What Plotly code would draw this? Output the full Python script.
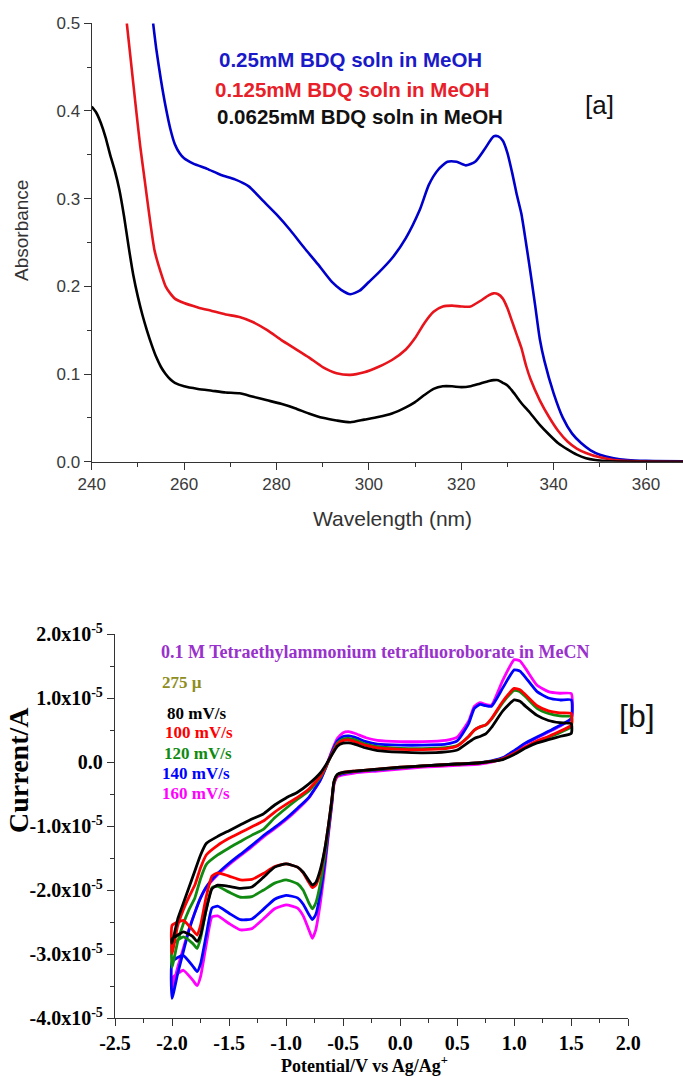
import plotly.graph_objects as go

# ---------------- Panel (a): UV-vis spectra ----------------
wl_blue = [253.3, 254, 255, 256, 257, 258, 259, 260, 262, 265, 268, 271, 274, 277, 280, 283, 286, 289,
           292, 294, 296, 298, 300, 302, 305, 308, 311, 313, 315, 317, 319, 321, 323, 325, 327, 328,
           329, 330, 331, 332, 333, 334, 335, 336, 337, 338, 340, 342, 344, 346, 348, 350, 353, 356,
           360, 368]
abs_blue = [0.50, 0.47, 0.435, 0.405, 0.38, 0.362, 0.352, 0.346, 0.34, 0.334, 0.327, 0.322, 0.314,
            0.298, 0.282, 0.264, 0.244, 0.225, 0.205, 0.196, 0.191, 0.195, 0.205, 0.215, 0.232, 0.255,
            0.287, 0.316, 0.333, 0.342, 0.342, 0.338, 0.342, 0.356, 0.371, 0.371, 0.366, 0.352, 0.33,
            0.305, 0.283, 0.25, 0.215, 0.178, 0.14, 0.115, 0.078, 0.05, 0.032, 0.021, 0.013, 0.008,
            0.004, 0.002, 0.001, 0.0005]

wl_red = [247.6, 248.5, 249.5, 250.5, 251.5, 252.5, 253.6, 255, 256, 257, 258, 260, 263, 266, 269, 272,
          275, 278, 281, 284, 287, 290, 293, 296, 299, 302, 305, 308, 310, 312, 314, 316, 318, 320, 322,
          324, 326, 327, 328, 329, 330, 331, 332, 333, 334, 335, 337, 339, 341, 343, 345, 347, 350, 353,
          358, 368]
abs_red = [0.50, 0.456, 0.407, 0.36, 0.32, 0.28, 0.241, 0.215, 0.20, 0.192, 0.186, 0.181, 0.176, 0.172,
           0.168, 0.165, 0.159, 0.15, 0.139, 0.129, 0.119, 0.108, 0.101, 0.099, 0.102, 0.108, 0.116,
           0.128, 0.141, 0.158, 0.171, 0.177, 0.178, 0.177, 0.177, 0.183, 0.19, 0.192, 0.191, 0.186,
           0.175, 0.16, 0.145, 0.13, 0.11, 0.094, 0.07, 0.051, 0.035, 0.023, 0.015, 0.01, 0.005, 0.002,
           0.0005, 0.0]

wl_black = [240, 241, 242, 243, 244, 245, 246, 247, 248, 249, 250, 251, 252, 253, 254, 255, 256, 257, 258,
            260, 263, 266, 269, 272, 275, 278, 281, 284, 287, 290, 293, 296, 299, 302, 305, 308, 310,
            312, 314, 316, 318, 320, 322, 324, 326, 327, 328, 329, 330, 331, 332, 333, 335, 337, 339,
            341, 343, 345, 347, 349, 352, 368]
abs_black = [0.405, 0.398, 0.386, 0.37, 0.35, 0.332, 0.31, 0.28, 0.245, 0.213, 0.188, 0.167, 0.149,
             0.133, 0.119, 0.108, 0.10, 0.094, 0.09, 0.086, 0.083, 0.081, 0.079, 0.078, 0.074, 0.07,
             0.066, 0.061, 0.055, 0.05, 0.047, 0.045, 0.048, 0.051, 0.055, 0.062, 0.068, 0.076, 0.083,
             0.086, 0.086, 0.085, 0.086, 0.089, 0.092, 0.093, 0.093, 0.09, 0.087, 0.081, 0.074, 0.067,
             0.055, 0.042, 0.031, 0.021, 0.014, 0.008, 0.004, 0.002, 0.0005, 0.0]

uv_labels = ["0.25mM BDQ soln in MeOH", "0.125mM BDQ soln in MeOH", "0.0625mM BDQ soln in MeOH"]
wl_ticks = [240, 260, 280, 300, 320, 340, 360]
abs_ticks = [0.0, 0.1, 0.2, 0.3, 0.4, 0.5]

# ---------------- Panel (b): cyclic voltammograms ----------------
E_fwd = [-2.00, -1.95, -1.90, -1.85, -1.80, -1.75, -1.70, -1.60, -1.50, -1.40, -1.30, -1.20, -1.10,
         -1.00, -0.90, -0.80, -0.70, -0.65, -0.60, -0.55, -0.50, -0.45, -0.40, -0.30, -0.20, 0.00,
         0.20, 0.40, 0.50, 0.60, 0.65, 0.70, 0.75, 0.80, 0.90, 1.00, 1.05, 1.10, 1.20, 1.30, 1.40, 1.50]
E_rev = [1.50, 1.40, 1.30, 1.20, 1.10, 1.00, 0.90, 0.80, 0.70, 0.50, 0.20, 0.00, -0.20, -0.40, -0.50,
         -0.55, -0.58, -0.60, -0.63, -0.66, -0.70, -0.74, -0.77, -0.80, -0.85, -0.90, -1.00, -1.10,
         -1.20, -1.30, -1.40, -1.50, -1.60, -1.65, -1.70, -1.75, -1.78, -1.82, -1.90, -1.95, -2.00]

# currents in units of 1e-5 A
I80_fwd = [-2.83, -2.45, -2.20, -1.95, -1.70, -1.45, -1.27, -1.16, -1.07, -0.98, -0.89, -0.81, -0.67,
           -0.56, -0.47, -0.34, -0.17, -0.04, 0.11, 0.25, 0.295, 0.30, 0.28, 0.22, 0.18, 0.155, 0.145,
           0.16, 0.19, 0.31, 0.37, 0.40, 0.44, 0.54, 0.80, 0.97, 0.95, 0.87, 0.73, 0.65, 0.615, 0.60]
I80_rev = [0.45, 0.40, 0.35, 0.30, 0.22, 0.12, 0.04, 0.01, -0.01, -0.03, -0.06, -0.08, -0.11, -0.14,
           -0.16, -0.19, -0.30, -0.60, -1.00, -1.35, -1.68, -1.88, -1.92, -1.85, -1.72, -1.64, -1.59,
           -1.64, -1.80, -1.95, -1.97, -1.94, -1.92, -1.98, -2.30, -2.70, -2.80, -2.72, -2.65, -2.70, -2.76]

I100_fwd = [-2.99, -2.55, -2.30, -2.10, -1.92, -1.65, -1.45, -1.30, -1.19, -1.10, -1.01, -0.92, -0.78,
            -0.66, -0.55, -0.42, -0.22, -0.06, 0.12, 0.28, 0.335, 0.345, 0.32, 0.26, 0.22, 0.20, 0.195,
            0.21, 0.25, 0.40, 0.50, 0.55, 0.58, 0.68, 0.95, 1.15, 1.13, 1.05, 0.88, 0.80, 0.77, 0.76]
I100_rev = [0.58, 0.48, 0.40, 0.33, 0.24, 0.14, 0.05, 0.01, -0.01, -0.03, -0.06, -0.08, -0.11, -0.14,
            -0.16, -0.20, -0.31, -0.60, -1.00, -1.36, -1.72, -1.92, -1.96, -1.88, -1.73, -1.64, -1.59,
            -1.63, -1.74, -1.83, -1.84, -1.78, -1.73, -1.78, -2.10, -2.55, -2.70, -2.62, -2.47, -2.50, -2.55]

I120_fwd = [-3.20, -2.80, -2.52, -2.30, -2.12, -1.82, -1.60, -1.45, -1.34, -1.24, -1.14, -1.05, -0.87,
            -0.72, -0.58, -0.45, -0.24, -0.07, 0.13, 0.30, 0.36, 0.37, 0.35, 0.28, 0.24, 0.215, 0.21,
            0.225, 0.26, 0.40, 0.50, 0.55, 0.58, 0.67, 0.93, 1.12, 1.10, 1.02, 0.84, 0.76, 0.72, 0.71]
I120_rev = [0.55, 0.46, 0.39, 0.32, 0.23, 0.13, 0.05, 0.01, -0.01, -0.03, -0.06, -0.085, -0.115, -0.145,
            -0.17, -0.20, -0.32, -0.62, -1.05, -1.45, -1.90, -2.20, -2.29, -2.20, -2.00, -1.90, -1.84,
            -1.89, -2.00, -2.10, -2.11, -2.03, -1.94, -1.96, -2.30, -2.75, -2.91, -2.83, -2.73, -2.78, -2.85]

I140_fwd = [-3.69, -3.30, -2.95, -2.62, -2.35, -2.12, -1.95, -1.74, -1.58, -1.44, -1.30, -1.15, -1.02,
            -0.88, -0.72, -0.55, -0.28, -0.08, 0.15, 0.33, 0.40, 0.41, 0.39, 0.32, 0.28, 0.265, 0.265,
            0.28, 0.33, 0.60, 0.84, 0.90, 0.88, 0.87, 1.16, 1.44, 1.42, 1.32, 1.10, 1.00, 0.97, 0.97]
I140_rev = [0.68, 0.57, 0.48, 0.39, 0.30, 0.18, 0.07, 0.02, -0.01, -0.03, -0.06, -0.09, -0.12, -0.15,
            -0.18, -0.21, -0.32, -0.65, -1.10, -1.55, -2.05, -2.38, -2.46, -2.38, -2.22, -2.12, -2.08,
            -2.14, -2.30, -2.45, -2.46, -2.36, -2.25, -2.28, -2.70, -3.15, -3.27, -3.18, -3.02, -3.05, -3.12]

I160_fwd = [-3.55, -3.20, -2.90, -2.60, -2.35, -2.12, -1.96, -1.76, -1.60, -1.46, -1.32, -1.17, -1.04,
            -0.90, -0.74, -0.56, -0.28, -0.07, 0.17, 0.37, 0.46, 0.475, 0.45, 0.38, 0.34, 0.32, 0.32,
            0.34, 0.39, 0.64, 0.87, 0.93, 0.90, 0.89, 1.28, 1.60, 1.58, 1.46, 1.20, 1.10, 1.075, 1.07]
I160_rev = [0.68, 0.56, 0.47, 0.38, 0.29, 0.17, 0.06, 0.00, -0.03, -0.05, -0.08, -0.11, -0.14, -0.17,
            -0.20, -0.23, -0.35, -0.68, -1.15, -1.65, -2.20, -2.62, -2.75, -2.62, -2.40, -2.28, -2.23,
            -2.29, -2.45, -2.60, -2.62, -2.52, -2.40, -2.42, -2.85, -3.35, -3.49, -3.40, -3.25, -3.30, -3.38]

scan_rates = ["80 mV/s", "100 mV/s", "120 mV/s", "140 mV/s", "160 mV/s"]
E_ticks = [-2.5, -2.0, -1.5, -1.0, -0.5, 0.0, 0.5, 1.0, 1.5, 2.0]
I_ticks = [2.0e-5, 1.0e-5, 0.0, -1.0e-5, -2.0e-5, -3.0e-5, -4.0e-5]
I_ticktext = ["2.0x10<sup>-5</sup>", "1.0x10<sup>-5</sup>", "0.0", "-1.0x10<sup>-5</sup>",
              "-2.0x10<sup>-5</sup>", "-3.0x10<sup>-5</sup>", "-4.0x10<sup>-5</sup>"]

# ---------------- figure ----------------
W, H = 683, 1076


def px(x):
    return x / W


def py(y):
    return 1 - y / H


SANS = "Liberation Sans, Arial, sans-serif"
SERIF = "Liberation Serif, Times New Roman, serif"

fig = go.Figure()

uv_series = [(wl_blue, abs_blue, "#0000CC"), (wl_red, abs_red, "#E8141C"), (wl_black, abs_black, "#000000")]
for wl, ab, col in uv_series:
    fig.add_trace(go.Scatter(x=wl, y=ab, mode="lines", xaxis="x", yaxis="y", showlegend=False,
                             line=dict(color=col, width=2.6, shape="spline", smoothing=0.6)))

cv_series = [
    (I160_fwd, I160_rev, "#FF00FF"),
    (I140_fwd, I140_rev, "#0000FF"),
    (I120_fwd, I120_rev, "#108A10"),
    (I100_fwd, I100_rev, "#FF0000"),
    (I80_fwd, I80_rev, "#000000"),
]
for fwd, rev, col in cv_series:
    E = E_fwd + E_rev + [E_fwd[0]]
    I = [v * 1e-5 for v in (fwd + rev + [fwd[0]])]
    fig.add_trace(go.Scatter(x=E, y=I, mode="lines", xaxis="x2", yaxis="y2", showlegend=False,
                             line=dict(color=col, width=2.8, shape="spline", smoothing=0.5)))

axis_a = dict(showgrid=False, zeroline=False, showline=True, linecolor="#333333", linewidth=1.3,
              ticks="outside", ticklen=7, tickwidth=1.2, tickcolor="#333333", automargin=False,
              tickfont=dict(family=SANS, size=17, color="#3a3a3a"))
axis_b = dict(showgrid=False, zeroline=False, showline=True, linecolor="#333333", linewidth=1.3,
              ticks="outside", ticklen=7, tickwidth=1.2, tickcolor="#333333", automargin=False,
              tickfont=dict(family=SERIF, size=20, color="#000000", weight="bold"))

fig.update_layout(
    width=W, height=H, autosize=False,
    margin=dict(l=0, r=0, t=0, b=0, pad=0),
    paper_bgcolor="white", plot_bgcolor="white",
    xaxis=dict(domain=[px(91.7), 1.0], anchor="y", range=[240, 368],
               tickvals=wl_ticks, ticktext=[str(v) for v in wl_ticks],
               minor=dict(tickvals=[250, 270, 290, 310, 330, 350], ticks="outside", ticklen=4,
                          tickcolor="#333333"),
               **axis_a),
    yaxis=dict(domain=[py(461.7), py(23.3)], anchor="x", range=[0, 0.5],
               tickvals=abs_ticks, ticktext=["%.1f" % v for v in abs_ticks],
               minor=dict(tickvals=[0.05, 0.15, 0.25, 0.35, 0.45], ticks="outside", ticklen=4,
                          tickcolor="#333333"),
               **axis_a),
    xaxis2=dict(domain=[px(115), px(628.3)], anchor="y2", range=[-2.5, 2.0],
                tickvals=E_ticks, ticktext=["%.1f" % v for v in E_ticks],
                minor=dict(tickvals=[-2.25, -1.75, -1.25, -0.75, -0.25, 0.25, 0.75, 1.25, 1.75],
                           ticks="outside", ticklen=4, tickcolor="#333333"),
                **axis_b),
    yaxis2=dict(domain=[py(1018.3), py(634)], anchor="x2", range=[-4.0e-5, 2.0e-5],
                tickvals=I_ticks, ticktext=I_ticktext,
                minor=dict(tickvals=[1.5e-5, 0.5e-5, -0.5e-5, -1.5e-5, -2.5e-5, -3.5e-5],
                           ticks="outside", ticklen=4, tickcolor="#333333"),
                **axis_b),
)

ann = []
# panel (a) texts
uv_cols = ["#1A1AC8", "#E8202A", "#111111"]
uv_y = [60, 90, 117]
uv_x = [217, 213, 215]
for t, c, x, y in zip(uv_labels, uv_cols, uv_x, uv_y):
    ann.append(dict(text=t, x=px(x), y=py(y), xref="paper", yref="paper", xanchor="left", yanchor="middle",
                    showarrow=False, font=dict(family=SANS, size=20.5, color=c, weight="bold")))
ann.append(dict(text="[a]", x=px(599), y=py(105), xref="paper", yref="paper", xanchor="center",
                yanchor="middle", showarrow=False, font=dict(family=SANS, size=26, color="#111111")))
ann.append(dict(text="Absorbance", x=px(21), y=py(231), xref="paper", yref="paper", xanchor="center",
                yanchor="middle", textangle=-90, showarrow=False,
                font=dict(family=SANS, size=19, color="#333333")))
ann.append(dict(text="Wavelength (nm)", x=px(392), y=py(518), xref="paper", yref="paper",
                xanchor="center", yanchor="middle", showarrow=False,
                font=dict(family=SANS, size=21, color="#333333")))

# panel (b) texts
ann.append(dict(text="0.1 M Tetraethylammonium tetrafluoroborate in MeCN", x=px(159), y=py(652),
                xref="paper", yref="paper", xanchor="left", yanchor="middle", showarrow=False,
                font=dict(family=SERIF, size=18, color="#9932CC", weight="bold")))
ann.append(dict(text="275 \u00b5", x=px(160), y=py(682), xref="paper", yref="paper", xanchor="left",
                yanchor="middle", showarrow=False,
                font=dict(family=SERIF, size=17, color="#8E8E1E", weight="bold")))
sr_cols = ["#000000", "#FF0000", "#108A10", "#0000FF", "#FF00FF"]
sr_y = [713, 733, 753, 773, 793]
sr_x = [165, 163, 162, 160, 160]
for t, c, x, y in zip(scan_rates, sr_cols, sr_x, sr_y):
    ann.append(dict(text=t, x=px(x), y=py(y), xref="paper", yref="paper", xanchor="left", yanchor="middle",
                    showarrow=False, font=dict(family=SERIF, size=17, color=c, weight="bold")))
ann.append(dict(text="[b]", x=px(637), y=py(716), xref="paper", yref="paper", xanchor="center",
                yanchor="middle", showarrow=False, font=dict(family=SANS, size=32, color="#111111")))
ann.append(dict(text="Current/A", x=px(18), y=py(770), xref="paper", yref="paper", xanchor="center",
                yanchor="middle", textangle=-90, showarrow=False,
                font=dict(family=SERIF, size=28, color="#000000", weight="bold")))
ann.append(dict(text="Potential/V vs Ag/Ag<sup>+</sup>", x=px(364), y=py(1064), xref="paper",
                yref="paper", xanchor="center", yanchor="middle", showarrow=False,
                font=dict(family=SERIF, size=18, color="#000000", weight="bold")))

fig.update_layout(annotations=ann)

fig.write_html("out.html", config={"displayModeBar": False},
               post_script="document.body.style.margin='0';document.body.style.overflow='hidden';")
